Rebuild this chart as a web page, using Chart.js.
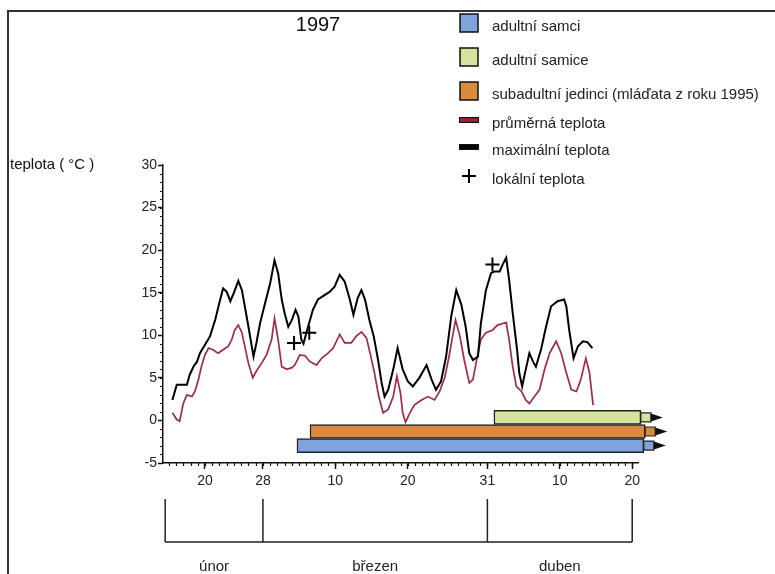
<!DOCTYPE html>
<html>
<head>
<meta charset="utf-8">
<script src="https://cdn.jsdelivr.net/npm/chart.js@4.4.1/dist/chart.umd.min.js"></script>
<style>
  body { margin: 0; background: #fff; }
  #wrap { width: 775px; height: 574px; position: relative; }
</style>
</head>
<body>
<div id="wrap"><canvas id="chart" width="775" height="574"></canvas></div>
<script>
// --- data (x = day of year 1997, y = °C) ---
const maxDays = [46.5,47.1,48.5,48.9,49.4,49.9,50.3,51.0,51.7,52.4,53.1,53.5,54.0,54.5,55.0,55.6,56.1,56.5,57.0,57.7,
  58.1,58.6,59.3,60.0,60.6,61.1,61.6,62.0,62.5,63.0,63.5,63.9,64.3,64.6,65.0,65.5,65.9,66.6,67.3,68.2,
  68.9,69.6,70.3,71.0,71.5,72.1,72.6,73.1,73.7,74.3,74.9,75.4,75.8,76.3,77.0,77.6,78.3,79.0,79.7,80.6,
  81.6,82.3,82.9,83.6,84.3,85.0,85.7,86.4,87.0,87.5,88.0,88.7,89.1,89.8,90.5,91.0,91.7,92.1,92.6,93.0,
  93.5,94.1,94.4,94.8,95.3,95.8,96.3,96.7,97.4,98.1,98.8,99.7,100.6,100.9,101.3,101.9,102.5,103.2,103.8,104.5];
const maxTemps = [2.4,4.2,4.2,5.4,6.3,6.9,7.9,8.9,9.9,11.8,14.2,15.5,15.1,14.0,15.0,16.4,15.3,13.4,11.0,7.5,
  9.1,11.4,13.8,16.1,18.8,17.3,14.2,12.6,11.0,11.8,13.0,12.2,9.5,9.0,10.3,11.8,13.0,14.2,14.6,15.1,
  15.7,17.1,16.3,14.2,12.4,14.4,15.3,14.2,11.8,9.9,7.1,4.4,2.8,3.6,6.0,8.5,6.0,4.6,4.0,5.0,
  6.5,4.8,3.6,4.6,7.5,12.2,15.3,13.6,11.0,7.9,7.1,7.5,11.4,15.3,17.3,17.5,17.5,18.3,19.1,16.5,
  12.6,8.3,5.6,4.0,6.0,7.9,6.9,6.3,8.3,11.0,13.4,14.0,14.2,13.4,10.6,7.3,8.7,9.3,9.2,8.5];

const meanDays = [46.5,47.1,47.5,48.0,48.5,49.2,49.6,50.1,50.5,51.0,51.5,52.1,52.8,53.5,54.2,54.7,55.1,55.6,56.1,56.5,
  57.0,57.6,58.1,58.8,59.5,60.2,60.6,61.1,61.6,62.3,63.0,63.4,64.1,64.8,65.5,66.4,67.1,68.0,68.7,69.6,
  70.3,71.2,71.9,72.6,73.3,73.8,74.4,75.0,75.6,76.3,77.0,77.5,78.0,78.3,78.7,79.3,79.9,80.9,81.8,82.7,
  83.4,84.1,84.7,85.6,86.2,86.8,87.5,88.0,88.7,89.1,89.8,90.7,91.4,92.6,93.0,93.5,94.0,94.7,95.3,95.8,
  96.5,97.2,97.9,98.6,99.5,100.2,100.9,101.6,102.3,102.9,103.6,104.1,104.6];
const meanTemps = [0.9,0.1,-0.1,2.0,3.0,2.8,3.4,4.8,6.3,7.7,8.5,8.3,7.9,8.3,8.7,9.5,10.6,11.2,10.3,8.7,
  6.7,5.0,5.8,6.7,7.7,9.5,12.0,9.5,6.3,6.0,6.2,6.5,7.7,7.6,6.9,6.5,7.3,7.9,8.5,10.1,
  9.1,9.1,9.9,10.4,9.7,7.9,5.6,2.8,0.9,1.3,2.8,5.2,3.2,0.9,-0.2,0.9,1.8,2.4,2.8,2.4,
  3.4,5.0,7.5,11.8,9.9,7.1,4.4,4.8,7.9,9.5,10.3,10.6,11.2,11.5,9.5,6.3,4.0,3.4,2.4,2.0,
  2.8,3.6,6.0,7.9,9.3,7.9,5.6,3.6,3.4,4.8,7.3,5.6,1.8];

const localDays = [63.3, 65.4, 90.7];
const localTemps = [9.1, 10.3, 18.3];

// activity periods (horizontal bars)
const groupNames = ["adultní samci", "subadultní jedinci (mláďata z roku 1995)", "adultní samice"];
const groupStart = [63.7, 65.5, 90.9];
const groupEnd = [111.6, 111.8, 111.2];
const groupLevel = [-2.95, -1.3, 0.35];
const groupColors = ["#7fa3dc", "#d98a3c", "#d6e39c"];

// axis ticks
const xTickDays = [51, 59, 69, 79, 90, 100, 110];
const xTickLabels = ["20", "28", "10", "20", "31", "10", "20"];
const monthBounds = [45.5, 59, 90, 110];
const monthNames = ["únor", "březen", "duben"];

const legendItems = [
  { kind: "box", color: "#7fa3dc", text: "adultní samci", y: 23 },
  { kind: "box", color: "#d6e39c", text: "adultní samice", y: 57 },
  { kind: "box", color: "#d98a3c", text: "subadultní jedinci (mláďata z roku 1995)", y: 91 },
  { kind: "line", color: "#8e2438", text: "průměrná teplota", y: 120 },
  { kind: "line", color: "#000", text: "maximální teplota", y: 147 },
  { kind: "cross", color: "#000", text: "lokální teplota", y: 176 }
];

const FONT = "'Liberation Sans', Arial, sans-serif";

const decor = {
  id: "decor",
  beforeDraw(chart) {
    const ctx = chart.ctx;
    ctx.save();
    ctx.fillStyle = "#fff";
    ctx.fillRect(0, 0, chart.width, chart.height);
    ctx.restore();
  },
  afterDraw(chart) {
    const ctx = chart.ctx;
    const xs = chart.scales.x, ys = chart.scales.y;
    ctx.save();

    // outer frame (top + left)
    ctx.strokeStyle = "#333";
    ctx.lineWidth = 2;
    ctx.beginPath();
    ctx.moveTo(8, 580); ctx.lineTo(8, 11); ctx.lineTo(780, 11);
    ctx.stroke();

    // minor ticks
    ctx.strokeStyle = "#111";
    ctx.lineWidth = 1.2;
    ctx.beginPath();
    for (let d = Math.ceil(xs.min); d <= Math.floor(xs.max); d++) {
      const px = Math.round(xs.getPixelForValue(d)) + 0.5;
      ctx.moveTo(px, ys.bottom); ctx.lineTo(px, ys.bottom + 3);
    }
    for (let v = ys.min; v <= ys.max; v++) {
      const py = Math.round(ys.getPixelForValue(v)) + 0.5;
      ctx.moveTo(xs.left, py); ctx.lineTo(xs.left - 3, py);
    }
    ctx.stroke();

    // arrow tips at the right end of each activity bar
    groupStart.forEach((_, i) => {
      const el = chart.getDatasetMeta(i).data[0];
      if (!el) return;
      const x = el.x, y = el.y, h = el.height;
      ctx.fillStyle = groupColors[i];
      ctx.strokeStyle = "#222";
      ctx.lineWidth = 1.2;
      ctx.beginPath();
      ctx.rect(x, y - h / 2 + 2.5, 10, h - 5);
      ctx.fill(); ctx.stroke();
      ctx.fillStyle = "#111";
      ctx.beginPath();
      ctx.moveTo(x + 10, y - h / 2 + 3);
      ctx.lineTo(x + 22, y);
      ctx.lineTo(x + 10, y + h / 2 - 3);
      ctx.closePath();
      ctx.fill();
    });

    // month brackets
    ctx.strokeStyle = "#222";
    ctx.lineWidth = 1.5;
    ctx.beginPath();
    const bx = monthBounds.map(d => xs.getPixelForValue(d));
    bx.forEach(px => { ctx.moveTo(px, 499); ctx.lineTo(px, 542); });
    ctx.moveTo(bx[0], 542); ctx.lineTo(bx[bx.length - 1], 542);
    ctx.stroke();
    ctx.fillStyle = "#222";
    ctx.font = "15px " + FONT;
    ctx.textAlign = "center";
    ctx.textBaseline = "middle";
    monthNames.forEach((m, i) => ctx.fillText(m, (bx[i] + bx[i + 1]) / 2, 567));

    // title
    ctx.fillStyle = "#111";
    ctx.font = "20px " + FONT;
    ctx.fillText("1997", 318, 25);

    // y axis title
    ctx.textAlign = "left";
    ctx.font = "15px " + FONT;
    ctx.fillText("teplota ( °C )", 10, 165);

    // legend
    legendItems.forEach(it => {
      if (it.kind === "box") {
        ctx.fillStyle = it.color;
        ctx.fillRect(460, it.y - 9, 18, 18);
        ctx.strokeStyle = "#111";
        ctx.lineWidth = 1.5;
        ctx.strokeRect(460, it.y - 9, 18, 18);
      } else if (it.kind === "line") {
        ctx.fillStyle = "#111";
        ctx.fillRect(459, it.y - 3, 20, 6);
        ctx.fillStyle = it.color;
        ctx.fillRect(460, it.y - 2, 18, 4);
      } else {
        ctx.strokeStyle = it.color;
        ctx.lineWidth = 2;
        ctx.beginPath();
        ctx.moveTo(462, it.y); ctx.lineTo(476, it.y);
        ctx.moveTo(469, it.y - 7); ctx.lineTo(469, it.y + 7);
        ctx.stroke();
      }
      ctx.fillStyle = "#222";
      ctx.font = "15px " + FONT;
      ctx.fillText(it.text, 492, it.y + 4);
    });

    ctx.restore();
  }
};

const barSets = groupStart.map((s, i) => ({
  type: "bar",
  label: groupNames[i],
  indexAxis: "y",
  data: [{ x: [s, groupEnd[i]], y: groupLevel[i] }],
  backgroundColor: groupColors[i],
  borderColor: "#222",
  borderWidth: 1.5,
  borderSkipped: false,
  grouped: false,
  barPercentage: 1,
  categoryPercentage: 1,
  maxBarThickness: 14,
  clip: false,
  order: 3
}));

new Chart(document.getElementById("chart"), {
  type: "line",
  data: {
    datasets: [
      ...barSets,
      {
        label: "maximální teplota",
        data: maxDays.map((d, i) => ({ x: d, y: maxTemps[i] })),
        borderColor: "#000",
        borderWidth: 2,
        pointRadius: 0,
        tension: 0,
        order: 1
      },
      {
        label: "průměrná teplota",
        data: meanDays.map((d, i) => ({ x: d, y: meanTemps[i] })),
        borderColor: "#a02a48",
        borderWidth: 1.7,
        pointRadius: 0,
        tension: 0,
        order: 2
      },
      {
        label: "lokální teplota",
        data: localDays.map((d, i) => ({ x: d, y: localTemps[i] })),
        showLine: false,
        pointStyle: "cross",
        pointRadius: 7,
        borderColor: "#000",
        borderWidth: 2,
        order: 0
      }
    ]
  },
  options: {
    responsive: false,
    animation: false,
    devicePixelRatio: 1,
    layout: { padding: { left: 113, right: 137, top: 165, bottom: 81 } },
    plugins: {
      legend: { display: false },
      title: { display: false },
      tooltip: { enabled: false }
    },
    scales: {
      x: {
        type: "linear",
        min: 45.2,
        max: 110.8,
        offset: false,
        afterFit: s => { s.height = 30; },
        afterBuildTicks: s => { s.ticks = xTickDays.map(v => ({ value: v })); },
        ticks: {
          autoSkip: false,
          maxRotation: 0,
          padding: 4,
          color: "#222",
          font: { size: 14, family: FONT },
          callback: (v, i) => xTickLabels[i]
        },
        grid: { offset: false, drawOnChartArea: false, tickLength: 6, tickColor: "#111", tickWidth: 1.5 },
        border: { display: true, color: "#111", width: 1.5 }
      },
      y: {
        type: "linear",
        min: -5,
        max: 30,
        offset: false,
        afterFit: s => { s.width = 50; },
        ticks: {
          stepSize: 5,
          padding: 1,
          color: "#222",
          font: { size: 14, family: FONT }
        },
        grid: { offset: false, drawOnChartArea: false, tickLength: 5, tickColor: "#111", tickWidth: 1.5 },
        border: { display: true, color: "#111", width: 1.5 }
      }
    }
  },
  plugins: [decor]
});
</script>
</body>
</html>
